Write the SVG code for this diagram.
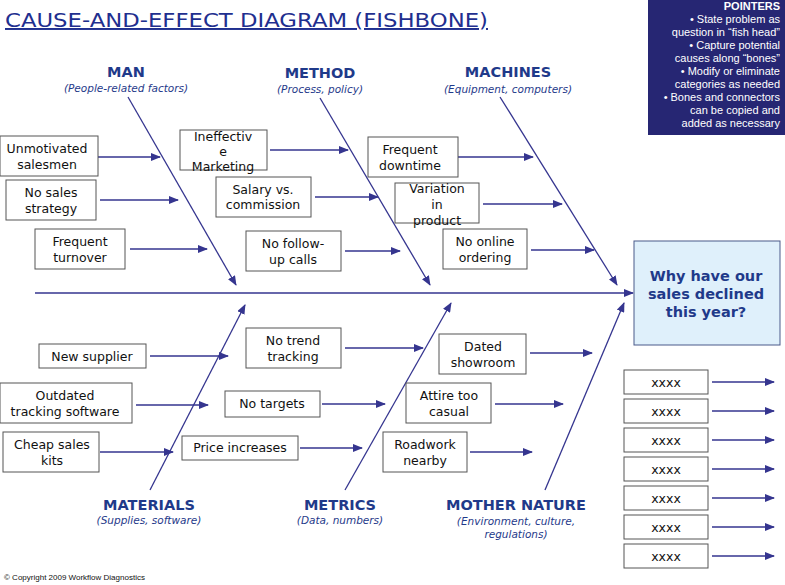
<svg xmlns="http://www.w3.org/2000/svg" width="785" height="585" viewBox="0 0 785 585">
<style>
.b{fill:#fff;stroke:#555;stroke-width:1}
.t{font-family:"DejaVu Sans",Verdana,sans-serif;font-size:12.5px;fill:#111;text-anchor:middle}
.c{stroke:#35358f;stroke-width:1.3;fill:none;marker-end:url(#a)}
.h{font-family:"DejaVu Sans",Verdana,sans-serif;font-weight:bold;font-size:14.5px;fill:#1f3a8a;text-anchor:middle}
.s{font-family:"DejaVu Sans",Verdana,sans-serif;font-style:italic;font-size:10.5px;fill:#1f3a8a;text-anchor:middle}
.p{font-family:"Liberation Sans",Arial,sans-serif;font-size:11px;fill:#fff;text-anchor:end}
</style>
<defs><marker id="a" markerWidth="10" markerHeight="8" refX="9" refY="4" orient="auto" markerUnits="userSpaceOnUse"><path d="M0,0L10,4L0,8z" fill="#35358f"/></marker></defs>
<rect width="785" height="585" fill="#fff"/>
<text x="5" y="27" font-family="'DejaVu Sans',Verdana,sans-serif" font-size="19.5" fill="#1f2f8f" text-decoration="underline" textLength="483" lengthAdjust="spacingAndGlyphs">CAUSE-AND-EFFECT DIAGRAM (FISHBONE)</text>
<g id="pointers"><rect x="648" y="0" width="137" height="135" fill="#262673"/>
<text class="p" x="780" y="10" font-weight="bold">POINTERS</text>
<text class="p" x="780" y="23">• State problem as</text>
<text class="p" x="780" y="36">question in “fish head”</text>
<text class="p" x="780" y="49">• Capture potential</text>
<text class="p" x="780" y="62">causes along “bones”</text>
<text class="p" x="780" y="75">• Modify or eliminate</text>
<text class="p" x="780" y="88">categories as needed</text>
<text class="p" x="780" y="101">• Bones and connectors</text>
<text class="p" x="780" y="114">can be copied and</text>
<text class="p" x="780" y="127">added as necessary</text></g>
<g id="head"><rect x="634" y="241" width="146" height="104" fill="#dff0fb" stroke="#4a5a8a"/>
<text class="h" x="706" y="281" font-size="15">Why have our</text>
<text class="h" x="706" y="299" font-size="15">sales declined</text>
<text class="h" x="706" y="317" font-size="15">this year?</text></g>
<g id="labels">
<text class="h" x="126" y="77">MAN</text><text class="s" x="126" y="92">(People-related factors)</text>
<text class="h" x="320" y="78">METHOD</text><text class="s" x="320" y="93">(Process, policy)</text>
<text class="h" x="508" y="77">MACHINES</text><text class="s" x="508" y="93">(Equipment, computers)</text>
<text class="h" x="149" y="510">MATERIALS</text><text class="s" x="149" y="524">(Supplies, software)</text>
<text class="h" x="340" y="510">METRICS</text><text class="s" x="340" y="524">(Data, numbers)</text>
<text class="h" x="516" y="510">MOTHER NATURE</text><text class="s" x="516" y="525">(Environment, culture,</text><text class="s" x="516" y="538">regulations)</text>
</g>
<g id="connectors">
<line class="c" x1="35" y1="293" x2="633" y2="293" stroke-width="2"/>
<line class="c" x1="128" y1="97" x2="236" y2="285"/>
<line class="c" x1="320" y1="98" x2="430" y2="285"/>
<line class="c" x1="500" y1="97" x2="617" y2="285"/>
<line class="c" x1="150" y1="490" x2="245" y2="305"/>
<line class="c" x1="345" y1="490" x2="451" y2="303"/>
<line class="c" x1="545" y1="490" x2="624" y2="303"/>
<line class="c" x1="98" y1="157" x2="160" y2="157"/>
<line class="c" x1="100" y1="200" x2="178" y2="200"/>
<line class="c" x1="130" y1="249" x2="207" y2="249"/>
<line class="c" x1="270" y1="150" x2="348" y2="150"/>
<line class="c" x1="315" y1="197" x2="378" y2="197"/>
<line class="c" x1="345" y1="251" x2="400" y2="251"/>
<line class="c" x1="455" y1="157" x2="533" y2="157"/>
<line class="c" x1="483" y1="204" x2="562" y2="204"/>
<line class="c" x1="531" y1="250" x2="594" y2="250"/>
<line class="c" x1="150" y1="356" x2="228" y2="356"/>
<line class="c" x1="136" y1="405" x2="208" y2="405"/>
<line class="c" x1="100" y1="452" x2="173" y2="452"/>
<line class="c" x1="345" y1="348" x2="423" y2="348"/>
<line class="c" x1="322" y1="404" x2="385" y2="404"/>
<line class="c" x1="300" y1="448" x2="362" y2="448"/>
<line class="c" x1="530" y1="353" x2="592" y2="353"/>
<line class="c" x1="495" y1="404" x2="563" y2="404"/>
<line class="c" x1="470" y1="452" x2="532" y2="452"/>
<line class="c" x1="712" y1="382" x2="774" y2="382"/>
<line class="c" x1="712" y1="411" x2="774" y2="411"/>
<line class="c" x1="712" y1="440" x2="774" y2="440"/>
<line class="c" x1="712" y1="469" x2="774" y2="469"/>
<line class="c" x1="712" y1="498" x2="774" y2="498"/>
<line class="c" x1="712" y1="527" x2="774" y2="527"/>
<line class="c" x1="712" y1="556" x2="774" y2="556"/>
</g>
<g id="n1"><rect class="b" x="0" y="136" width="98" height="40"/><text class="t" x="47" y="153">Unmotivated</text><text class="t" x="47" y="169">salesmen</text></g>
<g id="n2"><rect class="b" x="6" y="180" width="90" height="40"/><text class="t" x="51" y="197">No sales</text><text class="t" x="51" y="213">strategy</text></g>
<g id="n3"><rect class="b" x="35" y="229" width="90" height="40"/><text class="t" x="80" y="246">Frequent</text><text class="t" x="80" y="262">turnover</text></g>
<g id="n4"><rect class="b" x="180" y="130" width="87" height="40"/><text class="t" x="223" y="141">Ineffectiv</text><text class="t" x="223" y="156">e</text><text class="t" x="223" y="171">Marketing</text></g>
<g id="n5"><rect class="b" x="216" y="177" width="95" height="40"/><text class="t" x="263" y="194">Salary vs.</text><text class="t" x="263" y="209">commission</text></g>
<g id="n6"><rect class="b" x="246" y="231" width="95" height="40"/><text class="t" x="293" y="248">No follow-</text><text class="t" x="293" y="264">up calls</text></g>
<g id="n7"><rect class="b" x="368" y="137" width="90" height="40"/><text class="t" x="410" y="154">Frequent</text><text class="t" x="410" y="170">downtime</text></g>
<g id="n8"><rect class="b" x="395" y="183" width="84" height="40"/><text class="t" x="437" y="193">Variation</text><text class="t" x="437" y="209">in</text><text class="t" x="437" y="225">product</text></g>
<g id="n9"><rect class="b" x="443" y="229" width="84" height="40"/><text class="t" x="485" y="246">No online</text><text class="t" x="485" y="262">ordering</text></g>
<g id="n10"><rect class="b" x="39" y="344" width="107" height="24"/><text class="t" x="92" y="361">New supplier</text></g>
<g id="n11"><rect class="b" x="0" y="383" width="132" height="40"/><text class="t" x="65" y="400">Outdated</text><text class="t" x="65" y="416">tracking software</text></g>
<g id="n12"><rect class="b" x="3" y="432" width="96" height="40"/><text class="t" x="52" y="449">Cheap sales</text><text class="t" x="52" y="465">kits</text></g>
<g id="n13"><rect class="b" x="246" y="328" width="95" height="40"/><text class="t" x="293" y="345">No trend</text><text class="t" x="293" y="361">tracking</text></g>
<g id="n14"><rect class="b" x="225" y="391" width="95" height="26"/><text class="t" x="272" y="408">No targets</text></g>
<g id="n15"><rect class="b" x="182" y="436" width="116" height="24"/><text class="t" x="240" y="452">Price increases</text></g>
<g id="n16"><rect class="b" x="439" y="334" width="87" height="40"/><text class="t" x="483" y="351">Dated</text><text class="t" x="483" y="367">showroom</text></g>
<g id="n17"><rect class="b" x="406" y="383" width="85" height="40"/><text class="t" x="449" y="400">Attire too</text><text class="t" x="449" y="416">casual</text></g>
<g id="n18"><rect class="b" x="383" y="432" width="84" height="40"/><text class="t" x="425" y="449">Roadwork</text><text class="t" x="425" y="465">nearby</text></g>
<g id="x1"><rect class="b" x="624" y="370" width="84" height="24"/><text class="t" x="666" y="387">xxxx</text></g>
<g id="x2"><rect class="b" x="624" y="399" width="84" height="24"/><text class="t" x="666" y="416">xxxx</text></g>
<g id="x3"><rect class="b" x="624" y="428" width="84" height="24"/><text class="t" x="666" y="445">xxxx</text></g>
<g id="x4"><rect class="b" x="624" y="457" width="84" height="24"/><text class="t" x="666" y="474">xxxx</text></g>
<g id="x5"><rect class="b" x="624" y="486" width="84" height="24"/><text class="t" x="666" y="503">xxxx</text></g>
<g id="x6"><rect class="b" x="624" y="515" width="84" height="24"/><text class="t" x="666" y="532">xxxx</text></g>
<g id="x7"><rect class="b" x="624" y="544" width="84" height="24"/><text class="t" x="666" y="561">xxxx</text></g>
<text x="4" y="580" font-family="'Liberation Sans',Arial,sans-serif" font-size="8" fill="#111">© Copyright 2009 Workflow Diagnostics</text>
</svg>
